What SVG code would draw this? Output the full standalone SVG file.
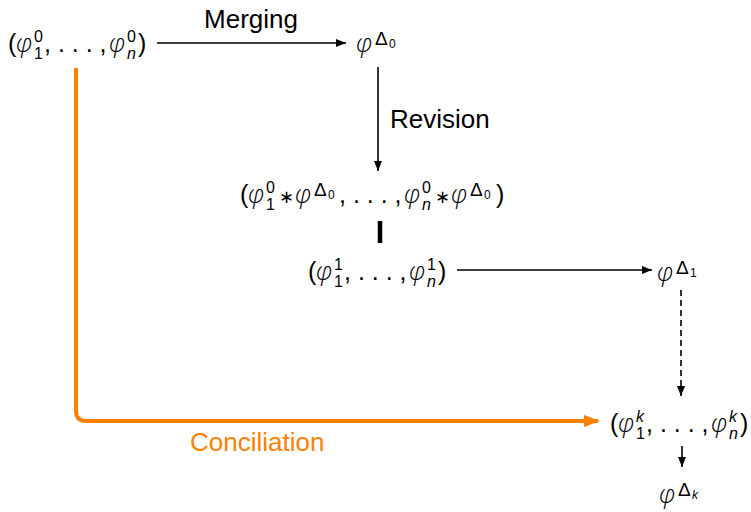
<svg xmlns="http://www.w3.org/2000/svg" width="751" height="512" viewBox="0 0 751 512">
<defs>
<style>
text{font-family:"Liberation Sans",Arial,sans-serif;font-size:25px;fill:#000}
.v{font-family:"Open Sans","DejaVu Sans",sans-serif;font-style:italic;font-weight:300;font-size:25px}
.i{font-style:italic}
.s{font-size:16px}
.d{font-size:19px}
.ss{font-size:12px}
.st{font-family:"DejaVu Sans",sans-serif;font-size:18px}
.lbl{font-size:26px}
.ed{fill:none;stroke:#000;stroke-width:1.6}
.dash{stroke-dasharray:6 4}
.or{fill:none;stroke:#FF8000;stroke-width:4}
</style>
<marker id="ah" viewBox="0 0 10 8" refX="10" refY="4" markerWidth="10" markerHeight="8" markerUnits="userSpaceOnUse" orient="auto"><path d="M0,0 L10,4 L0,8 Z" fill="#000"/></marker>
<marker id="oh" viewBox="0 0 16 12" refX="14" refY="6" markerWidth="16" markerHeight="12" markerUnits="userSpaceOnUse" orient="auto"><path d="M0,0 L16,6 L0,12 Z" fill="#FF8000"/></marker>
</defs>
<g id="connectors">
<path class="ed" d="M157,43 H346" marker-end="url(#ah)"/>
<path class="ed" d="M378,67 V171" marker-end="url(#ah)"/>
<path d="M380,221 V243" stroke="#000" stroke-width="4.5"/>
<path class="ed" d="M457,270 H652" marker-end="url(#ah)"/>
<path class="ed dash" d="M681,290 V396" marker-end="url(#ah)"/>
<path class="ed" d="M682,446 V467" marker-end="url(#ah)"/>
<path class="or" d="M76,68 V411 Q76,421 86,421 H598" marker-end="url(#oh)"/>
<text x="251" y="28" class="lbl" text-anchor="middle">Merging</text>
<text x="390" y="128" class="lbl">Revision</text>
<text x="190" y="451" class="lbl" style="fill:#FF8000">Conciliation</text>
</g>
<g id="n1"><text y="52"><tspan x="8">(</tspan><tspan x="16" class="v">φ</tspan><tspan x="34" y="42" class="s">0</tspan><tspan x="34" y="59" class="s">1</tspan><tspan x="44" y="52">, . . . ,</tspan><tspan x="109" class="v">φ</tspan><tspan x="127" y="42" class="s">0</tspan><tspan x="127" y="59" class="s i">n</tspan><tspan x="138" y="52">)</tspan></text></g>
<g id="n2"><text y="52"><tspan x="356" class="v">φ</tspan><tspan x="375" y="45" class="d">Δ</tspan><tspan x="389" y="48" class="ss">0</tspan></text></g>
<g id="n3"><text y="203"><tspan x="240">(</tspan><tspan x="248" class="v">φ</tspan><tspan x="266" y="193" class="s">0</tspan><tspan x="266" y="210" class="s">1</tspan><tspan x="279" y="203" class="st">∗</tspan><tspan x="295" class="v">φ</tspan><tspan x="314" y="196" class="d">Δ</tspan><tspan x="328" y="199" class="ss">0</tspan><tspan x="339" y="203">, . . . ,</tspan><tspan x="404" class="v">φ</tspan><tspan x="422" y="193" class="s">0</tspan><tspan x="422" y="210" class="s i">n</tspan><tspan x="435" y="203" class="st">∗</tspan><tspan x="451" class="v">φ</tspan><tspan x="470" y="196" class="d">Δ</tspan><tspan x="484" y="199" class="ss">0</tspan><tspan x="496" y="203">)</tspan></text></g>
<g id="n4"><text y="280"><tspan x="308">(</tspan><tspan x="316" class="v">φ</tspan><tspan x="334" y="270" class="s">1</tspan><tspan x="334" y="287" class="s">1</tspan><tspan x="344" y="280">, . . . ,</tspan><tspan x="409" class="v">φ</tspan><tspan x="427" y="270" class="s">1</tspan><tspan x="427" y="287" class="s i">n</tspan><tspan x="438" y="280">)</tspan></text></g>
<g id="n5"><text y="281"><tspan x="657" class="v">φ</tspan><tspan x="676" y="274" class="d">Δ</tspan><tspan x="690" y="277" class="ss">1</tspan></text></g>
<g id="n6"><text y="432"><tspan x="610">(</tspan><tspan x="618" class="v">φ</tspan><tspan x="636" y="422" class="s i">k</tspan><tspan x="636" y="439" class="s">1</tspan><tspan x="646" y="432">, . . . ,</tspan><tspan x="711" class="v">φ</tspan><tspan x="729" y="422" class="s i">k</tspan><tspan x="729" y="439" class="s i">n</tspan><tspan x="740" y="432">)</tspan></text></g>
<g id="n7"><text y="503"><tspan x="659" class="v">φ</tspan><tspan x="678" y="496" class="d">Δ</tspan><tspan x="692" y="499" class="ss i">k</tspan></text></g>
</svg>
